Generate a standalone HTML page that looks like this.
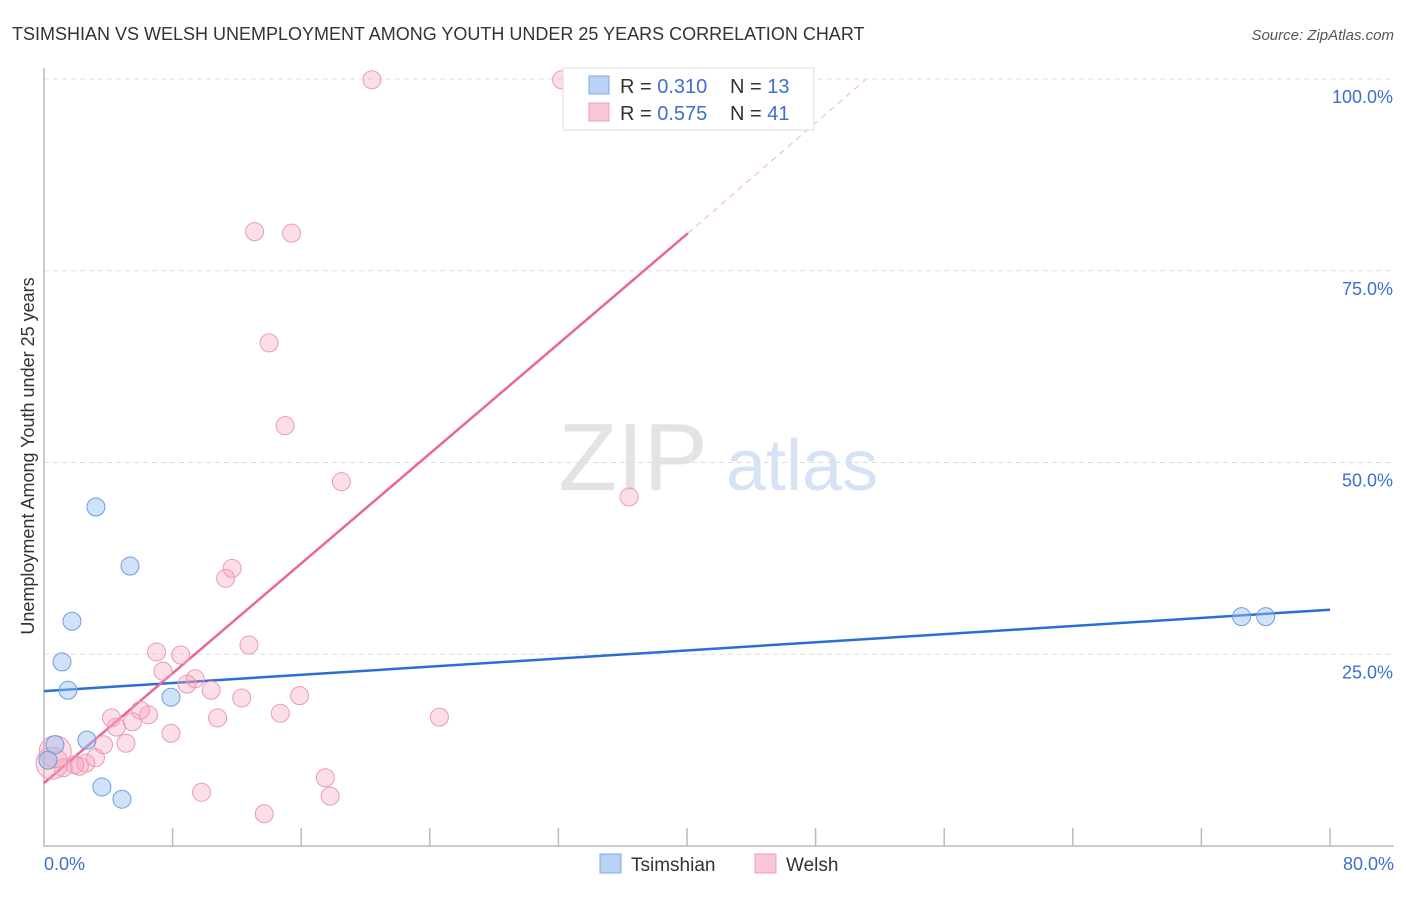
<!DOCTYPE html>
<html><head><meta charset="utf-8"><style>
body{margin:0;background:#fff;font-family:"Liberation Sans",sans-serif;}
svg text{font-family:"Liberation Sans",sans-serif;}
</style></head><body>
<svg id="c" width="1406" height="892" viewBox="0 0 1406 892" xmlns="http://www.w3.org/2000/svg">
<text x="12" y="40" font-size="18" fill="#333">TSIMSHIAN VS WELSH UNEMPLOYMENT AMONG YOUTH UNDER 25 YEARS CORRELATION CHART</text>
<text x="1394" y="40" font-size="15" fill="#555" font-style="italic" text-anchor="end">Source: ZipAtlas.com</text>
<g>
<text x="633" y="490" font-size="96" fill="#e3e3e3" font-family="Liberation Serif" text-anchor="middle">ZIP</text>
<text x="802" y="490" font-size="72" fill="#d6e3f5" text-anchor="middle">atlas</text>
</g>
<g id="grid"></g>
<g id="axes"></g>
<g id="lines"></g>
<g id="pts"></g>
<text transform="translate(34,456) rotate(-90)" font-size="18" fill="#333" text-anchor="middle">Unemployment Among Youth under 25 years</text>
<text x="44" y="870" font-size="18" fill="#3f6fce">0.0%</text>
<text x="1394" y="870" font-size="18" fill="#3f6fce" text-anchor="end">80.0%</text>
<g>
<rect x="563" y="68" width="251" height="62" fill="#fff" stroke="#ddd"/>
<rect x="589" y="76" width="20" height="18" fill="#b8d3f5" stroke="#7fa9e6"/>
<rect x="589" y="103" width="20" height="18" fill="#f9c7d6" stroke="#ef9cb6"/>
<text x="620" y="93" font-size="20" fill="#333">R = <tspan fill="#3f6fce">0.310</tspan><tspan x="730">N = </tspan><tspan fill="#3f6fce">13</tspan></text>
<text x="620" y="120" font-size="20" fill="#333">R = <tspan fill="#3f6fce">0.575</tspan><tspan x="730">N = </tspan><tspan fill="#3f6fce">41</tspan></text>
</g>
<g>
<rect x="600" y="854" width="21" height="19" fill="#b8d3f5" stroke="#7fa9e6"/>
<text x="631" y="871" font-size="19" fill="#333">Tsimshian</text>
<rect x="755" y="854" width="21" height="19" fill="#f9c7d6" stroke="#ef9cb6"/>
<text x="786" y="871" font-size="19" fill="#333">Welsh</text>
</g>
</svg>
<script>
const yTicks=[25,50,75,100];
const yTickLabels=["25.0%","50.0%","75.0%","100.0%"];
const xTicks=[8,16,24,32,40,48,56,64,72,80];
const tsX=[3.23,5.35,1.74,1.12,1.49,7.9,2.67,0.68,0.25,3.6,4.85,74.5,76.0];
const tsY=[44.2,36.5,29.3,24.0,20.3,19.4,13.8,13.2,11.2,7.7,6.1,29.9,29.9];
const weX=[20.4,32.2,13.1,15.4,14.0,15.0,18.5,36.4,11.7,11.3,12.75,7.0,8.5,7.4,9.4,8.9,10.4,12.3,15.9,4.2,6.5,6.0,10.8,14.7,24.6,4.5,5.5,7.9,3.7,5.1,3.2,2.6,1.9,1.2,0.5,0.7,17.5,17.8,9.8,13.7,2.2];
const weY=[99.9,99.9,80.1,79.9,65.6,54.8,47.5,45.5,36.2,34.9,26.2,25.3,24.9,22.8,21.8,21.1,20.3,19.3,19.6,16.7,17.1,17.7,16.7,17.3,16.8,15.5,16.2,14.7,13.2,13.4,11.5,10.8,10.6,10.2,10.8,12.3,8.9,6.5,7.0,4.2,10.4];
const tsLine=[[0,20.2],[80,30.8]];
const weLine=[[0,8.2],[40.06,79.9]];
const weDash=[[40.06,79.9],[51.1,99.9]];
const X=v=>44+v*16.075, Y=v=>846-v*7.67;
const NS="http://www.w3.org/2000/svg";
function mk(t,a,p){const e=document.createElementNS(NS,t);for(const k in a)e.setAttribute(k,a[k]);p.appendChild(e);return e;}
const grid=document.getElementById('grid'),axes=document.getElementById('axes'),lines=document.getElementById('lines'),pts=document.getElementById('pts');
yTicks.forEach((t,i)=>{
 const l=mk('line',{x1:44,x2:1394,y1:Y(t),y2:Y(t),stroke:'#ddd','stroke-dasharray':'5,4'},grid);
 
 
 const tx=mk('text',{x:1393,y:Y(t)+24,'font-size':18,fill:'#3f6fce','text-anchor':'end'},grid);
 tx.textContent=yTickLabels[i];
 
 
});
const ax=mk('path',{d:`M44,68V${Y(0)}H1394`,stroke:'#bbb',fill:'none','stroke-width':1.5},axes);


xTicks.forEach(t=>{
 const l=mk('line',{x1:X(t),x2:X(t),y1:Y(0)-18,y2:Y(0),stroke:'#bbb','stroke-width':1.5},axes);
 
 
});
function ln(d,c,w,dash,name){const e=mk('line',{x1:X(d[0][0]),y1:Y(d[0][1]),x2:X(d[1][0]),y2:Y(d[1][1]),stroke:c,'stroke-width':w},lines);if(dash)e.setAttribute('stroke-dasharray',dash);
 
 }
ln(tsLine,'#2a6fd6',2.5,null,'tsimshian-trend-line');
ln(weLine,'#e8679a',2.5,null,'welsh-trend-line');
ln(weDash,'#f0b3c8',1,'6,5','welsh-trend-extension');
weX.forEach((x,i)=>{
 const r=(i===34||i===35)?16:9;
 const c=mk('circle',{cx:X(x),cy:Y(weY[i]),r:r,fill:'rgba(245,160,185,0.35)',stroke:'#eb9ab5','stroke-width':1},pts);
 
 
});
tsX.forEach((x,i)=>{
 const c=mk('circle',{cx:X(x),cy:Y(tsY[i]),r:9,fill:'rgba(150,190,240,0.45)',stroke:'#6d9de0','stroke-width':1},pts);
 
 
});
</script>
</body></html>
